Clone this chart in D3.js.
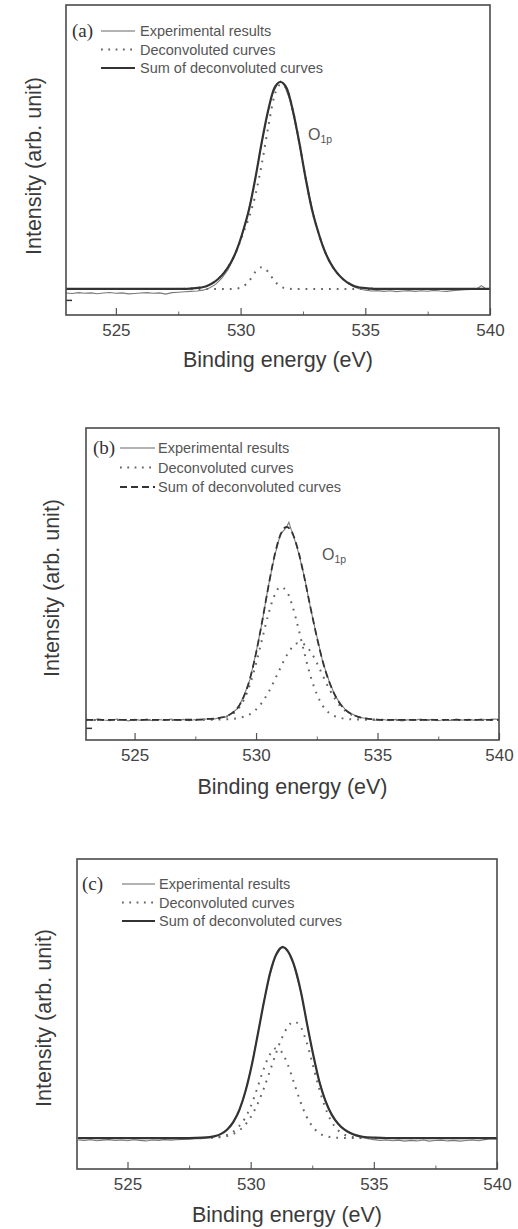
<!DOCTYPE html>
<html>
<head>
<meta charset="utf-8">
<script src="https://cdn.jsdelivr.net/npm/d3@7"></script>
<style>
  body { margin: 0; background: #fff; }
  svg { display: block; }
</style>
</head>
<body>
<svg id="chart"></svg>
<script>
// tick labels and legend text
const energyTicks = [525, 530, 535, 540];
const minorTicks = [527.5, 532.5, 537.5];
const legendLabels = ["Experimental results", "Deconvoluted curves", "Sum of deconvoluted curves"];

// ---- panel (a) : [binding energy eV, intensity] ----
const expA = [[523.0,-0.020],[523.25,-0.022],[523.5,-0.018],[523.75,-0.021],[524.0,-0.019],[524.25,-0.023],[524.5,-0.020],[524.75,-0.017],[525.0,-0.021],[525.25,-0.019],[525.5,-0.024],[525.75,-0.022],[526.0,-0.020],[526.25,-0.018],[526.5,-0.021],[526.75,-0.019],[527.0,-0.025],[527.25,-0.018],[527.5,-0.016],[527.75,-0.014],[528.0,-0.012],[528.25,-0.010],[528.5,-0.006],[528.75,0.004],[529.0,0.022],[529.25,0.052],[529.5,0.094],[529.75,0.155],[530.0,0.238],[530.25,0.345],[530.5,0.475],[530.75,0.640],[531.0,0.800],[531.25,0.935],[531.5,0.995],[531.6,1.005],[531.75,0.985],[532.0,0.905],[532.25,0.765],[532.5,0.610],[532.75,0.455],[533.0,0.320],[533.25,0.225],[533.5,0.150],[533.75,0.098],[534.0,0.060],[534.25,0.034],[534.5,0.012],[534.75,0.001],[535.0,-0.006],[535.25,-0.010],[535.5,-0.008],[535.75,-0.012],[536.0,-0.009],[536.25,-0.013],[536.5,-0.010],[536.75,-0.008],[537.0,-0.012],[537.25,-0.009],[537.5,-0.011],[537.75,-0.007],[538.0,-0.010],[538.25,-0.012],[538.5,-0.008],[538.75,-0.006],[539.0,-0.004],[539.25,-0.002],[539.5,0.002],[539.65,0.016],[539.8,0.003],[540.0,0.000]];
const sumA = [[523,0],[527.6,0],[528.1,0.003],[528.6,0.012],[528.85,0.026],[529.1,0.048],[529.35,0.08],[529.6,0.125],[529.85,0.19],[530.1,0.28],[530.35,0.39],[530.6,0.54],[530.85,0.71],[531.1,0.86],[531.35,0.97],[531.6,1.0],[531.85,0.97],[532.1,0.86],[532.35,0.71],[532.6,0.54],[532.85,0.39],[533.1,0.28],[533.35,0.19],[533.6,0.125],[533.85,0.08],[534.1,0.048],[534.35,0.026],[534.6,0.012],[535.1,0.003],[535.6,0],[540,0]];
const peakA1 = [[523,0],[527.6,0],[528.1,0.003],[528.6,0.012],[528.85,0.026],[529.1,0.048],[529.35,0.08],[529.6,0.125],[529.85,0.188],[530.1,0.268],[530.35,0.35],[530.6,0.457],[530.85,0.605],[531.1,0.777],[531.35,0.93],[531.6,0.988],[531.85,0.968],[532.1,0.86],[532.35,0.71],[532.6,0.54],[532.85,0.39],[533.1,0.28],[533.35,0.19],[533.6,0.125],[533.85,0.08],[534.1,0.048],[534.35,0.026],[534.6,0.012],[535.1,0.003],[535.6,0],[540,0]];
const peakA2 = [[523,0],[529.6,0],[529.85,0.002],[530.1,0.012],[530.35,0.040],[530.6,0.083],[530.85,0.105],[531.1,0.083],[531.35,0.040],[531.6,0.012],[531.85,0.002],[532.1,0],[540,0]];

// ---- panel (b) ----
const expB = [[523.0,0.004],[523.25,-0.003],[523.5,0.006],[523.75,0.000],[524.0,-0.004],[524.25,0.005],[524.5,0.001],[524.75,-0.005],[525.0,0.003],[525.25,-0.002],[525.5,0.004],[525.75,-0.004],[526.0,0.002],[526.25,-0.003],[526.5,0.005],[526.75,-0.002],[527.0,0.003],[527.25,-0.004],[527.5,0.002],[527.75,0.000],[528.0,0.006],[528.25,0.004],[528.5,0.012],[528.75,0.016],[529.0,0.036],[529.25,0.060],[529.5,0.125],[529.75,0.210],[530.0,0.350],[530.25,0.506],[530.5,0.690],[530.75,0.842],[531.0,0.962],[531.25,0.998],[531.35,1.025],[531.45,0.985],[531.5,0.972],[531.75,0.866],[532.0,0.735],[532.25,0.574],[532.5,0.434],[532.75,0.298],[533.0,0.205],[533.25,0.126],[533.5,0.080],[533.75,0.043],[534.0,0.028],[534.25,0.013],[534.5,0.009],[534.75,0.002],[535.0,-0.003],[535.25,0.002],[535.5,-0.004],[535.75,0.003],[536.0,-0.005],[536.25,0.001],[536.5,-0.003],[536.75,0.004],[537.0,-0.002],[537.25,0.003],[537.5,-0.004],[537.75,0.002],[538.0,-0.003],[538.25,0.004],[538.5,-0.001],[538.75,0.003],[539.0,-0.002],[539.25,0.004],[539.5,0.001],[539.75,0.005],[540.0,0.003]];
const sumB = [[523,0],[527.5,0.001],[528,0.005],[528.25,0.007],[528.5,0.011],[528.75,0.018],[529,0.034],[529.25,0.064],[529.5,0.122],[529.75,0.214],[530,0.346],[530.25,0.510],[530.5,0.686],[530.75,0.846],[531,0.958],[531.25,1.001],[531.5,0.967],[531.75,0.870],[532,0.731],[532.25,0.577],[532.5,0.430],[532.75,0.301],[533,0.201],[533.25,0.128],[533.5,0.077],[533.75,0.045],[534,0.026],[534.25,0.015],[534.5,0.008],[535,0.002],[535.5,0],[540,0]];
const peakB1 = [[523,0],[527.5,0],[528,0.004],[528.25,0.006],[528.5,0.009],[528.75,0.015],[529,0.029],[529.25,0.055],[529.5,0.105],[529.75,0.184],[530,0.292],[530.25,0.419],[530.5,0.545],[530.75,0.643],[531,0.689],[531.25,0.669],[531.5,0.589],[531.75,0.471],[532,0.341],[532.25,0.224],[532.5,0.134],[532.75,0.072],[533,0.037],[533.25,0.019],[533.5,0.010],[533.75,0.005],[534,0.003],[534.5,0.001],[535,0],[540,0]];
const peakB2 = [[523,0],[527.5,0],[528,0.001],[528.5,0.002],[529,0.005],[529.25,0.009],[529.5,0.017],[529.75,0.030],[530,0.054],[530.25,0.091],[530.5,0.141],[530.75,0.203],[531,0.269],[531.25,0.332],[531.5,0.378],[531.75,0.399],[532,0.390],[532.25,0.353],[532.5,0.296],[532.75,0.229],[533,0.164],[533.25,0.109],[533.5,0.067],[533.75,0.040],[534,0.023],[534.25,0.013],[534.5,0.007],[535,0.002],[535.5,0],[540,0]];

// ---- panel (c) ----
const expC = [[523.0,-0.010],[523.25,-0.013],[523.5,-0.009],[523.75,-0.014],[524.0,-0.011],[524.25,-0.008],[524.5,-0.013],[524.75,-0.010],[525.0,-0.014],[525.25,-0.009],[525.5,-0.012],[525.75,-0.015],[526.0,-0.010],[526.25,-0.012],[526.5,-0.008],[526.75,-0.011],[527.0,-0.009],[527.25,-0.007],[527.5,-0.006],[527.75,-0.004],[528.0,-0.003],[528.25,0.000],[528.5,0.006],[528.75,0.018],[529.0,0.038],[529.25,0.078],[529.5,0.128],[529.75,0.225],[530.0,0.355],[530.25,0.520],[530.5,0.690],[530.75,0.840],[531.0,0.950],[531.25,0.998],[531.3,1.004],[531.5,0.982],[531.75,0.905],[532.0,0.785],[532.25,0.625],[532.5,0.455],[532.75,0.315],[533.0,0.210],[533.25,0.135],[533.5,0.082],[533.75,0.048],[534.0,0.026],[534.25,0.012],[534.5,0.003],[534.75,-0.004],[535.0,-0.008],[535.25,-0.012],[535.5,-0.010],[535.75,-0.014],[536.0,-0.011],[536.25,-0.016],[536.5,-0.012],[536.75,-0.015],[537.0,-0.010],[537.25,-0.016],[537.5,-0.013],[537.75,-0.011],[538.0,-0.015],[538.25,-0.012],[538.5,-0.016],[538.75,-0.013],[539.0,-0.010],[539.25,-0.014],[539.5,-0.008],[539.75,-0.003],[540.0,-0.006]];
const sumC = [[523,0],[527.5,0],[528.05,0.002],[528.55,0.01],[528.8,0.022],[529.05,0.045],[529.3,0.085],[529.55,0.15],[529.8,0.25],[530.05,0.385],[530.3,0.55],[530.55,0.72],[530.8,0.87],[531.05,0.965],[531.3,1.0],[531.55,0.97],[531.8,0.89],[532.05,0.76],[532.3,0.59],[532.55,0.43],[532.8,0.29],[533.05,0.19],[533.3,0.12],[533.55,0.075],[533.8,0.045],[534.05,0.026],[534.3,0.014],[534.55,0.007],[535.05,0.002],[535.5,0],[540,0]];
const peakC1 = [[523,0],[528,0],[528.5,0.004],[529,0.014],[529.25,0.03],[529.5,0.058],[529.75,0.10],[530,0.165],[530.25,0.254],[530.5,0.351],[530.75,0.431],[531,0.469],[531.25,0.452],[531.5,0.387],[531.75,0.293],[532,0.197],[532.25,0.117],[532.5,0.062],[532.75,0.029],[533,0.012],[533.25,0.005],[533.5,0.002],[534,0],[540,0]];
const peakC2 = [[523,0],[528,0],[528.5,0.002],[529,0.009],[529.25,0.019],[529.5,0.037],[529.75,0.065],[530,0.109],[530.25,0.170],[530.5,0.248],[530.75,0.339],[531,0.434],[531.25,0.519],[531.5,0.581],[531.75,0.609],[532,0.589],[532.25,0.510],[532.5,0.395],[532.75,0.273],[533,0.170],[533.25,0.094],[533.5,0.047],[533.75,0.021],[534,0.009],[534.25,0.004],[534.5,0.001],[535,0],[540,0]];

// layout of the three stacked panels (pixels)
const panels = [
    { tag: "(a)", left: 66, right: 490, top: 5, bottom: 315, xDomain: [523, 540], yDomain: [-0.126, 1.372],
      yTicks: [-0.053], dashedSum: false, tagX: 72, lineX: [101, 135], textX: 140, legendY: 31, rowGap: 18.5,
      o1p: [308, 140], xTitleY: 367, yTitleX: 41, yTitleY: 166,
      exp: expA, sum: sumA, peaks: [peakA1, peakA2] },
    { tag: "(b)", left: 86, right: 499, top: 428, bottom: 740, xDomain: [523, 540], yDomain: [-0.104, 1.513],
      yTicks: [-0.041], dashedSum: true, tagX: 93, lineX: [120, 155], textX: 158, legendY: 448, rowGap: 19.5,
      o1p: [322, 560], xTitleY: 794, yTitleX: 59, yTitleY: 588,
      exp: expB, sum: sumB, peaks: [peakB1, peakB2] },
    { tag: "(c)", left: 77, right: 497, top: 859, bottom: 1169, xDomain: [522.95, 540], yDomain: [-0.162, 1.461],
      yTicks: [], dashedSum: false, tagX: 82, lineX: [122, 155], textX: 159, legendY: 884, rowGap: 18.5,
      o1p: null, xTitleY: 1222, yTitleX: 51, yTitleY: 1018,
      exp: expC, sum: sumC, peaks: [peakC1, peakC2] }
];

const sans = "'Liberation Sans', Arial, Helvetica, sans-serif";
const serif = "'Liberation Serif', 'Times New Roman', serif";
const ink = "#3a3a3a";

const svg = d3.select("#chart")
    .attr("width", 518)
    .attr("height", 1229);

svg.append("rect").attr("width", 518).attr("height", 1229).attr("fill", "#fff");

panels.forEach((p, i) => {
    const x = d3.scaleLinear().domain(p.xDomain).range([p.left, p.right]);
    const y = d3.scaleLinear().domain(p.yDomain).range([p.bottom, p.top]);
    const g = svg.append("g");

    // clip curves to the frame
    const clipId = "clip" + i;
    svg.append("clipPath").attr("id", clipId)
        .append("rect")
        .attr("x", p.left).attr("y", p.top)
        .attr("width", p.right - p.left).attr("height", p.bottom - p.top);

    const line = d3.line()
        .x(d => x(d[0]))
        .y(d => y(d[1]))
        .curve(d3.curveMonotoneX);
    const rawLine = d3.line()
        .x(d => x(d[0]))
        .y(d => y(d[1]));

    const curves = g.append("g").attr("clip-path", `url(#${clipId})`);

    // deconvoluted components, dotted
    p.peaks.forEach(pk => {
        curves.append("path")
            .attr("d", line(pk))
            .attr("fill", "none")
            .attr("stroke", "#666")
            .attr("stroke-width", 2)
            .attr("stroke-dasharray", "1.8,6");
    });

    // experimental trace
    curves.append("path")
        .attr("d", rawLine(p.exp))
        .attr("fill", "none")
        .attr("stroke", "#7a7a7a")
        .attr("stroke-width", 1.1);

    // sum of components
    curves.append("path")
        .attr("d", line(p.sum))
        .attr("fill", "none")
        .attr("stroke", "#333")
        .attr("stroke-width", p.dashedSum ? 1.8 : 2.2)
        .attr("stroke-dasharray", p.dashedSum ? "7,4" : null);

    // x axis, ticks pointing inside
    const xAxis = g.append("g")
        .attr("transform", `translate(0, ${p.bottom})`)
        .call(d3.axisBottom(x).tickValues(energyTicks).tickSizeInner(-7).tickSizeOuter(0).tickPadding(9));
    xAxis.select(".domain").remove();
    xAxis.selectAll("line").attr("stroke", "#555").attr("stroke-width", 1.2);
    xAxis.selectAll("text")
        .attr("fill", "#444")
        .style("font-family", sans)
        .style("font-size", "17px");

    const xMinor = g.append("g")
        .attr("transform", `translate(0, ${p.bottom})`)
        .call(d3.axisBottom(x).tickValues(minorTicks).tickSizeInner(-3.5).tickSizeOuter(0).tickFormat(""));
    xMinor.select(".domain").remove();
    xMinor.selectAll("line").attr("stroke", "#666").attr("stroke-width", 1);

    // small tick on the left axis
    if (p.yTicks.length) {
        const yAxis = g.append("g")
            .attr("transform", `translate(${p.left}, 0)`)
            .call(d3.axisLeft(y).tickValues(p.yTicks).tickSizeInner(-6).tickSizeOuter(0).tickFormat(""));
        yAxis.select(".domain").remove();
        yAxis.selectAll("line").attr("stroke", "#333").attr("stroke-width", 1.5);
    }

    // frame
    g.append("rect")
        .attr("x", p.left).attr("y", p.top)
        .attr("width", p.right - p.left).attr("height", p.bottom - p.top)
        .attr("fill", "none")
        .attr("stroke", "#4a4a4a")
        .attr("stroke-width", 1.6);

    // axis titles
    g.append("text")
        .attr("x", (p.left + p.right) / 2)
        .attr("y", p.xTitleY)
        .attr("text-anchor", "middle")
        .attr("fill", ink)
        .style("font-family", sans)
        .style("font-size", "21.5px")
        .text("Binding energy (eV)");

    g.append("text")
        .attr("transform", `translate(${p.yTitleX}, ${p.yTitleY}) rotate(-90)`)
        .attr("text-anchor", "middle")
        .attr("fill", ink)
        .style("font-family", sans)
        .style("font-size", "21.5px")
        .text("Intensity (arb. unit)");

    // panel tag
    g.append("text")
        .attr("x", p.tagX)
        .attr("y", p.legendY + 6)
        .attr("fill", "#333")
        .style("font-family", serif)
        .style("font-size", "19px")
        .text(p.tag);

    // legend
    const leg = g.append("g");
    legendLabels.forEach((label, k) => {
        const ly = p.legendY + k * p.rowGap;
        const sample = leg.append("line")
            .attr("x1", p.lineX[0]).attr("x2", p.lineX[1])
            .attr("y1", ly).attr("y2", ly);
        if (k === 0) {
            sample.attr("stroke", "#666").attr("stroke-width", 1.1);
        } else if (k === 1) {
            sample.attr("stroke", "#666").attr("stroke-width", 2).attr("stroke-dasharray", "1.8,5.5");
        } else {
            sample.attr("stroke", "#333")
                .attr("stroke-width", p.dashedSum ? 1.8 : 2.2)
                .attr("stroke-dasharray", p.dashedSum ? "7,4" : null);
        }
        leg.append("text")
            .attr("x", p.textX)
            .attr("y", ly + 5)
            .attr("fill", "#555")
            .style("font-family", sans)
            .style("font-size", "14.5px")
            .text(label);
    });

    // peak label
    if (p.o1p) {
        const t = g.append("text")
            .attr("x", p.o1p[0])
            .attr("y", p.o1p[1])
            .attr("fill", "#555")
            .style("font-family", sans)
            .style("font-size", "16px");
        t.append("tspan").text("O");
        t.append("tspan").attr("dy", 3).style("font-size", "10.5px").text("1p");
    }
});
</script>
</body>
</html>
